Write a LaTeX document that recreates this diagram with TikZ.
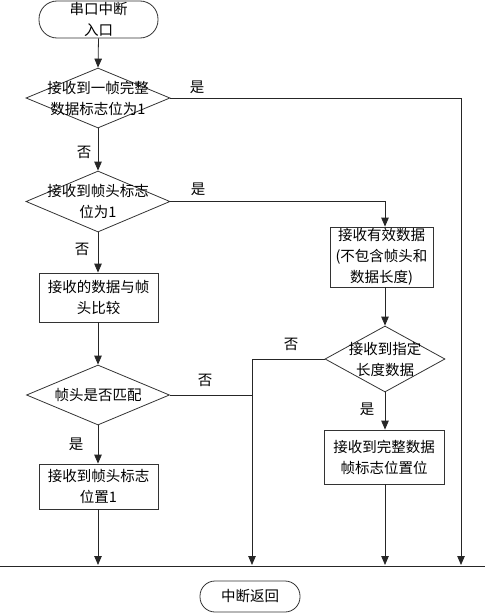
\documentclass[tikz,border=0pt]{standalone}
\usepackage{fontspec}
\newfontfamily\cjk{Noto Sans CJK SC}
\usetikzlibrary{shapes.geometric,arrows.meta}
\begin{document}
\begin{tikzpicture}[x=1pt,y=-1pt,
  every node/.style={font=\cjk\fontsize{14.5}{21}\selectfont, inner sep=0pt, align=center},
  ln/.style={draw=black!85, line width=0.8pt},
  arr/.style={ln,-{Triangle[length=9pt,width=7.5pt]}},
  term/.style={draw=black!80, line width=0.8pt, rectangle},
  procbox/.style={draw=black!80, line width=0.8pt, rectangle},
  dia/.style={draw=black!80, line width=0.8pt, diamond, shape aspect=2},
  lbl/.style={font=\cjk\fontsize{14.5}{21}\selectfont}
]
\useasboundingbox (0,0) rectangle (485,613);
% terminals
\node[term, rounded corners=18pt, minimum width=119pt, minimum height=37pt] (start) at (98.5,19.5) {串口中断\\入口};
\node[term, rounded corners=15pt, minimum width=100pt, minimum height=31pt] (stop) at (250,596.5) {中断返回};
% decisions
\node[dia, minimum width=144pt, minimum height=60pt, label={[lbl,align=center]center:接收到一帧完整\\数据标志位为1}] (d1) at (98,98) {};
\node[dia, minimum width=144pt, minimum height=61pt, label={[lbl,align=center]center:接收到帧头标志\\位为1}] (d2) at (98,201.5) {};
\node[dia, minimum width=120pt, minimum height=66pt, label={[lbl,align=center]center:接收到指定\\长度数据}] (d3) at (385,359) {};
\node[dia, minimum width=143pt, minimum height=60pt, label={[lbl,align=center]center:帧头是否匹配}] (d4) at (98,395) {};
% process boxes
\node[procbox, minimum width=103pt, minimum height=60pt] (b1) at (381.5,257) {接收有效数据\\(不包含帧头和\\数据长度)};
\node[procbox, minimum width=119pt, minimum height=49pt] (b2) at (98.5,297.5) {接收的数据与帧\\头比较};
\node[procbox, minimum width=119pt, minimum height=45pt] (b3) at (98.5,486.5) {接收到帧头标志\\位置1};
\node[procbox, minimum width=120pt, minimum height=54pt] (b4) at (384,457) {接收到完整数据\\帧标志位置位};
% base line and end points
\coordinate (hl) at (0,566);
\coordinate (hr) at (485,566);
\coordinate (e1) at (98,565);
\coordinate (e2) at (252,565);
\coordinate (e3) at (385,565);
\coordinate (e4) at (461,565);
\draw[ln] (hl) -- (hr);
% connectors
\draw[arr] (start.south) -- (d1.north);
\draw[arr] (d1.south) -- (d2.north);
\draw[arr] (d1.east) -| (e4);
\draw[arr] (d2.south) -- (d2.south |- b2.north);
\draw[arr] (d2.east) -| (d3.north |- b1.north);
\draw[arr] (d3.north |- b1.south) -- (d3.north);
\draw[arr] (d3.south) -- (d3.south |- b4.north);
\draw[arr] (d3.south |- b4.south) -- (e3);
\draw[arr] (d3.west) -| (e2);
\draw[ln] (d4.east) -- (d4.east -| e2);
\draw[arr] (d2.south |- b2.south) -- (d4.north);
\draw[arr] (d4.south) -- (d4.south |- b3.north);
\draw[arr] (d4.south |- b3.south) -- (e1);
% branch labels
\node[lbl] (y1) at (197,87) {是};
\node[lbl] (n1) at (84,152) {否};
\node[lbl] (y2) at (198,189) {是};
\node[lbl] (n2) at (82,249) {否};
\node[lbl] (n3) at (291,344) {否};
\node[lbl] (n4) at (205,380) {否};
\node[lbl] (y3) at (367,409) {是};
\node[lbl] (y4) at (76,444) {是};
\end{tikzpicture}
\end{document}
